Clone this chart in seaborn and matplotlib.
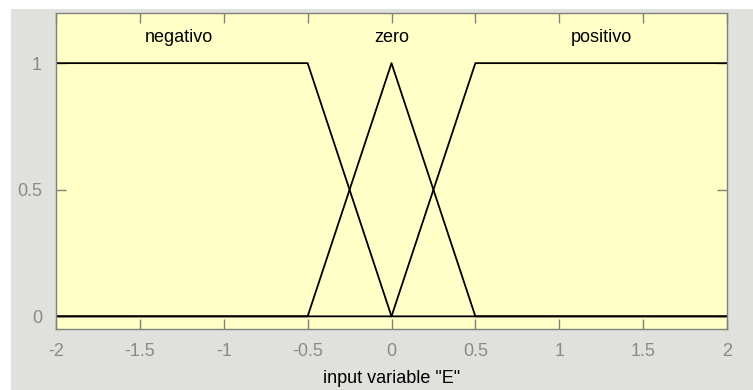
import matplotlib
matplotlib.use("Agg")
import matplotlib.pyplot as plt
import seaborn as sns
import pandas as pd
from matplotlib.patches import Rectangle

# Membership functions of input variable "E"
neg_x = [-2.0, -0.5, 0.0, 2.0]
neg_y = [1.0, 1.0, 0.0, 0.0]
zero_x = [-2.0, -0.5, 0.0, 0.5, 2.0]
zero_y = [0.0, 0.0, 1.0, 0.0, 0.0]
pos_x = [-2.0, 0.0, 0.5, 2.0]
pos_y = [0.0, 0.0, 1.0, 1.0]
mf_names = ["negativo", "zero", "positivo"]
label_x = [-1.27, 0.0, 1.25]
label_y = 1.10
xticks = [-2, -1.5, -1, -0.5, 0, 0.5, 1, 1.5, 2]
xtick_labels = ["-2", "-1.5", "-1", "-0.5", "0", "0.5", "1", "1.5", "2"]
yticks = [0, 0.5, 1]
ytick_labels = ["0", "0.5", "1"]

sns.set_style("white")
plt.rcParams['font.family'] = ['Liberation Sans', 'DejaVu Sans']

W, H = 753, 390
fig = plt.figure(figsize=(W / 100, H / 100), dpi=100, facecolor="white")
fig.patches.append(Rectangle((11 / W, 0), 1 - 11 / W, 1 - 9 / H, transform=fig.transFigure,
                             facecolor="#e0e1dd", edgecolor="none", zorder=-10))
ax = fig.add_axes([56 / W, 1 - 329 / H, (727 - 56) / W, (329 - 12.5) / H])
ax.set_facecolor("#ffffc8")

frames = []
for name, xs, ys in zip(mf_names, [neg_x, zero_x, pos_x], [neg_y, zero_y, pos_y]):
    frames.append(pd.DataFrame({"x": xs, "y": ys, "mf": name}))
df = pd.concat(frames, ignore_index=True)
for name in mf_names:
    sub = df[df["mf"] == name]
    sns.lineplot(data=sub, x="x", y="y", ax=ax, color="black", linewidth=1.3,
                 sort=False, estimator=None)

for name, lx in zip(mf_names, label_x):
    ax.text(lx, label_y, name, ha="center", va="center", fontsize=13, color="black")

ax.set_xlim(-2, 2)
ax.set_ylim(-0.05, 1.2)
ax.set_xticks(xticks)
ax.set_xticklabels(xtick_labels)
ax.set_yticks(yticks)
ax.set_yticklabels(ytick_labels)
ax.tick_params(direction="in", length=7, width=1, color="#808080", labelcolor="#8a8a8a",
               labelsize=13, top=True, right=True, bottom=True, left=True, pad=10)
for s in ax.spines.values():
    s.set_color("#808080")
    s.set_linewidth(1)
ax.set_xlabel('input variable "E"', fontsize=13, color="black", labelpad=7)
ax.set_ylabel("")

fig.savefig("out.png", dpi=100, facecolor=fig.get_facecolor())
